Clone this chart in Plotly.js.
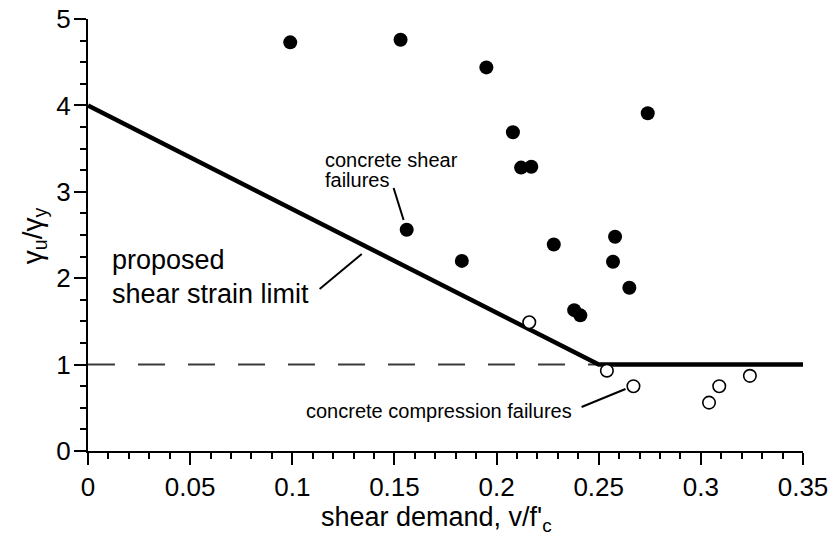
<!DOCTYPE html>
<html>
<head>
<meta charset="utf-8">
<script src="https://cdn.plot.ly/plotly-3.0.1.min.js"></script>
<style>html,body{margin:0;padding:0;background:#fff;}#chart{width:836px;height:539px;}</style>
</head>
<body>
<div id="chart"></div>
<script>
// Concrete shear failures (filled)
const shearX = [0.099, 0.153, 0.195, 0.208, 0.212, 0.217, 0.274, 0.156, 0.183, 0.228, 0.258, 0.257, 0.265, 0.238, 0.241];
const shearY = [4.73, 4.76, 4.44, 3.69, 3.28, 3.29, 3.91, 2.56, 2.20, 2.39, 2.48, 2.19, 1.89, 1.63, 1.57];
// Concrete compression failures (open)
const compX = [0.216, 0.254, 0.267, 0.304, 0.309, 0.324];
const compY = [1.49, 0.93, 0.75, 0.56, 0.75, 0.87];
// Proposed shear strain limit
const limitX = [0, 0.25, 0.35];
const limitY = [4, 1, 1];
// Yield reference line
const yieldX = [0, 0.25];
const yieldY = [1, 1];
// Tick labels
const xTickVals = [0, 0.05, 0.1, 0.15, 0.2, 0.25, 0.3, 0.35];
const xTickText = ['0', '0.05', '0.1', '0.15', '0.2', '0.25', '0.3', '0.35'];
const yTickVals = [0, 1, 2, 3, 4, 5];

const FONT = "Liberation Sans, Arial, Helvetica, sans-serif";

const traces = [
  {x: yieldX, y: yieldY, mode: 'lines', line: {color: '#3a3a3a', width: 2, dash: '27px,23px'}, hoverinfo: 'skip'},
  {x: limitX, y: limitY, mode: 'lines', line: {color: '#000', width: 4.5}, hoverinfo: 'skip'},
  {x: shearX, y: shearY, mode: 'markers', marker: {color: '#000', size: 14, line: {width: 0}}},
  {x: compX, y: compY, mode: 'markers', marker: {color: '#fff', size: 12.5, line: {color: '#000', width: 1.6}}, cliponaxis: false}
];

const ann = (x, y, text, size) => ({x, y, xref: 'x', yref: 'y', text, showarrow: false, xanchor: 'left', yanchor: 'middle', font: {family: FONT, size, color: '#000'}});

const layout = {
  width: 836, height: 539,
  margin: {l: 88, r: 33, t: 19, b: 88},
  paper_bgcolor: '#fff', plot_bgcolor: '#fff',
  showlegend: false,
  font: {family: FONT, color: '#000'},
  xaxis: {
    range: [0, 0.35], tickvals: xTickVals, ticktext: xTickText,
    ticks: 'outside', ticklen: 12, tickwidth: 2, tickcolor: '#000',
    minor: {dtick: 0.01, ticks: 'outside', ticklen: 6, tickwidth: 2, tickcolor: '#000', showgrid: false},
    showline: true, linewidth: 2, linecolor: '#000', showgrid: false, zeroline: false,
    tickfont: {family: FONT, size: 26, color: '#000'},
    automargin: false
  },
  yaxis: {
    range: [0, 5], tickvals: yTickVals,
    ticks: 'outside', ticklen: 12, tickwidth: 2, tickcolor: '#000',
    minor: {dtick: 0.25, ticks: 'outside', ticklen: 6, tickwidth: 2, tickcolor: '#000', showgrid: false},
    showline: true, linewidth: 2, linecolor: '#000', showgrid: false, zeroline: false,
    tickfont: {family: FONT, size: 26, color: '#000'},
    ticklabelstandoff: -2,
    automargin: false
  },
  annotations: [
    ann(0.0108, 2.21, 'proposed', 27),
    ann(0.0108, 1.817, 'shear strain limit', 27),
    ann(0.115, 3.37, 'concrete shear', 20),
    ann(0.115, 3.137, 'failures', 20),
    ann(0.1056, 0.463, 'concrete compression failures', 20),
    {xref: 'paper', yref: 'paper', x: 0.488, y: -0.158, xanchor: 'center', yanchor: 'middle', showarrow: false,
     text: "shear demand, v/f'<sub>c</sub>", font: {family: FONT, size: 27, color: '#000'}},
    {xref: 'paper', yref: 'paper', x: -0.075, y: 0.498, xanchor: 'center', yanchor: 'middle', showarrow: false, textangle: -90,
     text: "γ<sub>u</sub>/γ<sub>y</sub>", font: {family: FONT, size: 28, color: '#000'}}
  ],
  shapes: [
    {type: 'line', xref: 'x', yref: 'y', x0: 0.1496, y0: 3.044, x1: 0.1545, y1: 2.674, line: {color: '#000', width: 2}},
    {type: 'line', xref: 'x', yref: 'y', x0: 0.1134, y0: 1.875, x1: 0.134, y1: 2.28, line: {color: '#000', width: 2}},
    {type: 'line', xref: 'x', yref: 'y', x0: 0.2416, y0: 0.509, x1: 0.2631, y1: 0.718, line: {color: '#000', width: 2}}
  ]
};

Plotly.newPlot('chart', traces, layout, {staticPlot: true, displayModeBar: false});
</script>
</body>
</html>
